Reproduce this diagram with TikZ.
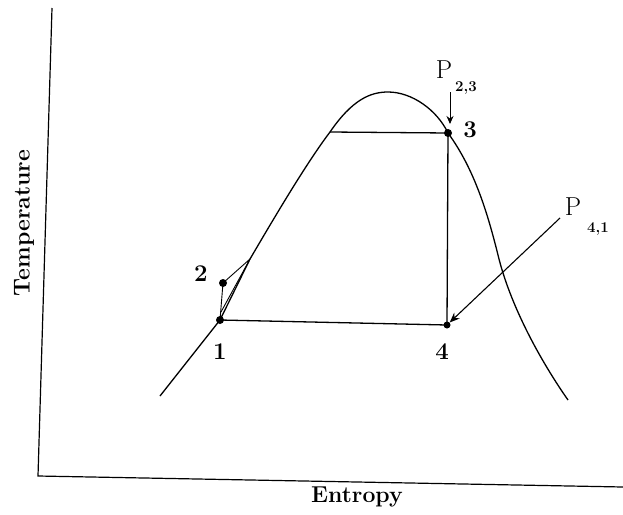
\documentclass[tikz,border=0pt]{standalone}
\usetikzlibrary{arrows.meta}
\begin{document}
\begin{tikzpicture}[x=1pt,y=-1pt,
  dot/.style={circle,fill=black,inner sep=0pt,minimum size=8pt},
  lbl/.style={font=\fontsize{24}{28}\selectfont\bfseries,inner sep=0pt},
  big/.style={font=\fontsize{26}{30}\selectfont,inner sep=0pt},
  sub/.style={font=\fontsize{15}{18}\selectfont\bfseries,inner sep=0pt,anchor=west},
  curve/.style={line width=1.3pt},
  axis/.style={line width=1.2pt},
  ptr/.style={line width=1.1pt,-{Stealth[length=10pt,width=8pt]}}]
\useasboundingbox (0,0) rectangle (623,514);
% axes
\coordinate (ytop) at (52,8);
\coordinate (orig) at (38,476);
\coordinate (xend) at (623,487);
\draw[axis] (ytop) -- (orig) -- (xend);
\node[rotate=90,font=\fontsize{23}{26}\selectfont\bfseries] (tlab) at (24,223) {Temperature};
\node[font=\fontsize{23}{26}\selectfont\bfseries] (slab) at (357,497) {Entropy};
% points
\node[dot] (p1) at (220,320) {};
\node[dot] (p2) at (223,283) {};
\node[dot] (p3) at (448,133) {};
\node[dot,minimum size=7pt] (p4) at (447,325) {};
\coordinate (k) at (250,259);
\coordinate (sl) at (330,132);
% dome
\draw[curve] (160,396) -- (p1.center) -- (k)
  .. controls (270,225) and (305,165) .. (sl)
  .. controls (352,100) and (370,92) .. (388,92)
  .. controls (412,92) and (437,110) .. (p3.center)
  .. controls (475,170) and (488,215) .. (498,255)
  .. controls (510,305) and (540,360) .. (568,400);
% cycle
\draw[curve] (sl) -- (p3.center) -- (p4.center) -- (p1.center);
\draw[line width=0.9pt] (p2.center) -- (k) -- (221,312);
\draw[line width=0.9pt] (p2.center) -- (p1.center);
% labels
\node[lbl] (l1) at (220,352) {1};
\node[lbl] (l2) at (201,274) {2};
\node[lbl] (l3) at (470,130) {3};
\node[lbl] (l4) at (442,352) {4};
\node[big] (P23) at (444,70) {P};
\node[sub] (s23) at (455,88) {2,3};
\node[big] (P41) at (573,207) {P};
\node[sub] (s41) at (587,229) {4,1};
\coordinate (a23) at (450,92);
\coordinate (a41) at (560,218);
\draw[line width=0.9pt,-{Stealth[length=8pt,width=7pt]}] (a23) -- (450,124);
\draw[ptr] (a41) -- (p4);
\end{tikzpicture}
\end{document}
